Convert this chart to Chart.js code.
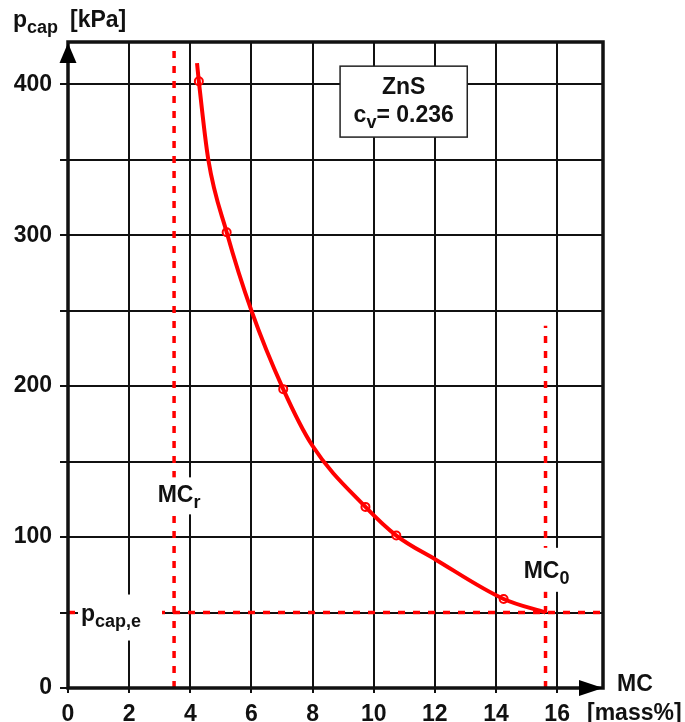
<!DOCTYPE html>
<html lang="en">
<head>
    <meta charset="UTF-8">
    <title>ZnS capillary pressure</title>
    <style>
        body {
            margin: 0;
            background: #fff;
        }

        #canvasBlock {
            width: 685px;
            height: 722px;
            position: relative;
        }
    </style>
</head>
<body>
    <div id="canvasBlock">
        <canvas id="myChart" width="685" height="722"></canvas>
    </div>

<script src="https://cdn.jsdelivr.net/npm/chart.js@4.4.1/dist/chart.umd.min.js"></script>
<script>
    // measured points (open circles)
    var pointMC = [4.28, 5.19, 7.04, 9.73, 10.74, 14.25];
    var pointP = [402, 302, 198, 120, 101, 59];

    // points
    var curveMC = [4.22, 4.28, 4.59, 5.19, 6.0, 7.04, 7.98, 9.73, 10.74, 12.03, 14.25, 15.62];
    var curveP = [414, 402, 350, 302, 250, 198, 161, 120, 101, 85, 59, 50];

    var mcR = 3.47;       // MC_r
    var mc0 = 15.62;      // MC_0
    var mc0Top = 240;
    var pcapE = 50;       // p_cap,e

    var xTicks = [0, 2, 4, 6, 8, 10, 12, 14, 16];
    var yTicks = [0, 50, 100, 150, 200, 250, 300, 350, 400];
    var yLabels = [0, 100, 200, 300, 400];
    var xMax = 17.5;
    var yMax = 428;

    var RED = '#ff0000';
    var INK = '#111';
    var FONT = 'bold 23px "Liberation Sans", Arial, sans-serif';
    var SUBFONT = 'bold 18px "Liberation Sans", Arial, sans-serif';

    function toXY(xs, ys) {
        var out = [];
        for (let i = 0; i < xs.length; i++) {
            out.push({ x: xs[i], y: ys[i] });
        }
        return out;
    }

    // text with a subscript, returns total width
    function subText(ctx, x, y, main, sub, after, draw) {
        ctx.font = FONT;
        let w1 = ctx.measureText(main).width;
        ctx.font = SUBFONT;
        let w2 = ctx.measureText(sub).width;
        ctx.font = FONT;
        let w3 = after ? ctx.measureText(after).width : 0;
        if (draw) {
            ctx.textAlign = 'left';
            ctx.textBaseline = 'alphabetic';
            ctx.fillStyle = INK;
            ctx.font = FONT;
            ctx.fillText(main, x, y);
            ctx.font = SUBFONT;
            ctx.fillText(sub, x + w1, y + 6);
            if (after) {
                ctx.font = FONT;
                ctx.fillText(after, x + w1 + w2, y);
            }
        }
        return w1 + w2 + w3;
    }

    function whiteBox(ctx, x1, y1, x2, y2) {
        ctx.fillStyle = '#fff';
        ctx.fillRect(x1, y1, x2 - x1, y2 - y1);
    }

    var overlay = {
        id: 'overlay',
        afterDatasetsDraw(chart) {
            var ctx = chart.ctx;
            var a = chart.chartArea;
            var xs = chart.scales.x;
            var ys = chart.scales.y;
            ctx.save();

            // MC_r label
            let cx = xs.getPixelForValue(mcR) + 5;
            let by = ys.getPixelForValue(123);
            whiteBox(ctx, cx - 28, by - 25, cx + 30, by + 12);
            let w = subText(ctx, 0, 0, 'MC', 'r', '', false);
            subText(ctx, cx - w / 2, by, 'MC', 'r', '', true);

            // MC_0 label
            cx = xs.getPixelForValue(mc0) + 1;
            by = ys.getPixelForValue(73);
            whiteBox(ctx, cx - 28, by - 30, cx + 32, by + 14);
            w = subText(ctx, 0, 0, 'MC', '0', '', false);
            subText(ctx, cx - w / 2, by, 'MC', '0', '', true);

            // p_cap,e label
            by = ys.getPixelForValue(pcapE) + 8;
            whiteBox(ctx, a.left + 10, by - 26, a.left + 94, by + 20);
            subText(ctx, a.left + 13, by, 'p', 'cap,e', '', true);

            // ZnS box
            let bx1 = xs.getPixelForValue(8.9), bx2 = xs.getPixelForValue(13.06);
            let by1 = ys.getPixelForValue(412), by2 = ys.getPixelForValue(365);
            whiteBox(ctx, bx1, by1, bx2, by2);
            ctx.strokeStyle = '#222';
            ctx.lineWidth = 1.5;
            ctx.strokeRect(bx1, by1, bx2 - bx1, by2 - by1);
            let mid = (bx1 + bx2) / 2;
            ctx.font = FONT;
            ctx.fillStyle = INK;
            ctx.textAlign = 'center';
            ctx.textBaseline = 'alphabetic';
            ctx.fillText('ZnS', mid, by1 + 28);
            w = subText(ctx, 0, 0, 'c', 'v', '= 0.236', false);
            subText(ctx, mid - w / 2, by1 + 56, 'c', 'v', '= 0.236', true);

            // frame
            ctx.strokeStyle = INK;
            ctx.lineWidth = 3.5;
            ctx.lineCap = 'square';
            ctx.strokeRect(a.left, a.top, a.right - a.left, a.bottom - a.top);

            // arrows
            ctx.fillStyle = '#000';
            ctx.beginPath();
            ctx.moveTo(a.left, a.top + 1);
            ctx.lineTo(a.left - 8.5, a.top + 21);
            ctx.lineTo(a.left + 8.5, a.top + 21);
            ctx.closePath();
            ctx.fill();
            ctx.beginPath();
            ctx.moveTo(a.right, a.bottom);
            ctx.lineTo(a.right - 24, a.bottom - 8);
            ctx.lineTo(a.right - 24, a.bottom + 8);
            ctx.closePath();
            ctx.fill();

            // axis titles
            subText(ctx, 13, 27, 'p', 'cap', '', true);
            ctx.font = FONT;
            ctx.textAlign = 'left';
            ctx.fillText('[kPa]', 70, 27);
            ctx.fillText('MC', 617, 691);
            ctx.fillText('[mass%]', 587, 720);

            ctx.restore();
        }
    };

    var dashed = {
        borderColor: RED,
        borderWidth: 3.5,
        borderDash: [7, 8],
        pointRadius: 0,
        fill: false,
        tension: 0
    };

    var ctx = document.getElementById('myChart').getContext('2d');

    var newLineChart = new Chart(ctx, {
        type: 'line',
        data: {
            datasets: [
                Object.assign({ data: [{ x: mcR, y: 0 }, { x: mcR, y: yMax }] }, dashed),
                Object.assign({ data: [{ x: mc0, y: 0 }, { x: mc0, y: mc0Top }] }, dashed),
                Object.assign({ data: [{ x: 0, y: pcapE }, { x: xMax, y: pcapE }] }, dashed),
                {
                    data: toXY(curveMC, curveP),
                    borderColor: RED,
                    borderWidth: 4,
                    pointRadius: 0,
                    cubicInterpolationMode: 'monotone',
                    fill: false
                },
                {
                    data: toXY(pointMC, pointP),
                    showLine: false,
                    pointRadius: 4,
                    pointBackgroundColor: '#fff',
                    pointBorderColor: RED,
                    pointBorderWidth: 2
                }
            ]
        },
        options: {
            responsive: false,
            animation: false,
            events: [],
            layout: {
                padding: { top: 42, right: 82, left: 0, bottom: 0 }
            },
            plugins: {
                legend: { display: false },
                tooltip: { enabled: false }
            },
            scales: {
                x: {
                    type: 'linear',
                    min: 0,
                    max: xMax,
                    afterBuildTicks: function (s) {
                        s.ticks = xTicks.map(v => ({ value: v }));
                    },
                    afterFit: function (s) { s.height = 34; },
                    grid: { color: INK, lineWidth: 2, tickLength: 5 },
                    border: { display: false },
                    ticks: {
                        color: INK,
                        padding: 8,
                        maxRotation: 0,
                        autoSkip: false,
                        font: { family: '"Liberation Sans", Arial, sans-serif', size: 23, weight: 'bold' }
                    }
                },
                y: {
                    type: 'linear',
                    min: 0,
                    max: yMax,
                    afterBuildTicks: function (s) {
                        s.ticks = yTicks.map(v => ({ value: v }));
                    },
                    afterFit: function (s) { s.width = 68; },
                    grid: { color: INK, lineWidth: 2, tickLength: 8 },
                    border: { display: false },
                    ticks: {
                        color: INK,
                        padding: 8,
                        autoSkip: false,
                        callback: v => yLabels.indexOf(v) >= 0 ? String(v) : '',
                        font: { family: '"Liberation Sans", Arial, sans-serif', size: 23, weight: 'bold' }
                    }
                }
            }
        },
        plugins: [overlay]
    });
</script>
</body>
</html>
